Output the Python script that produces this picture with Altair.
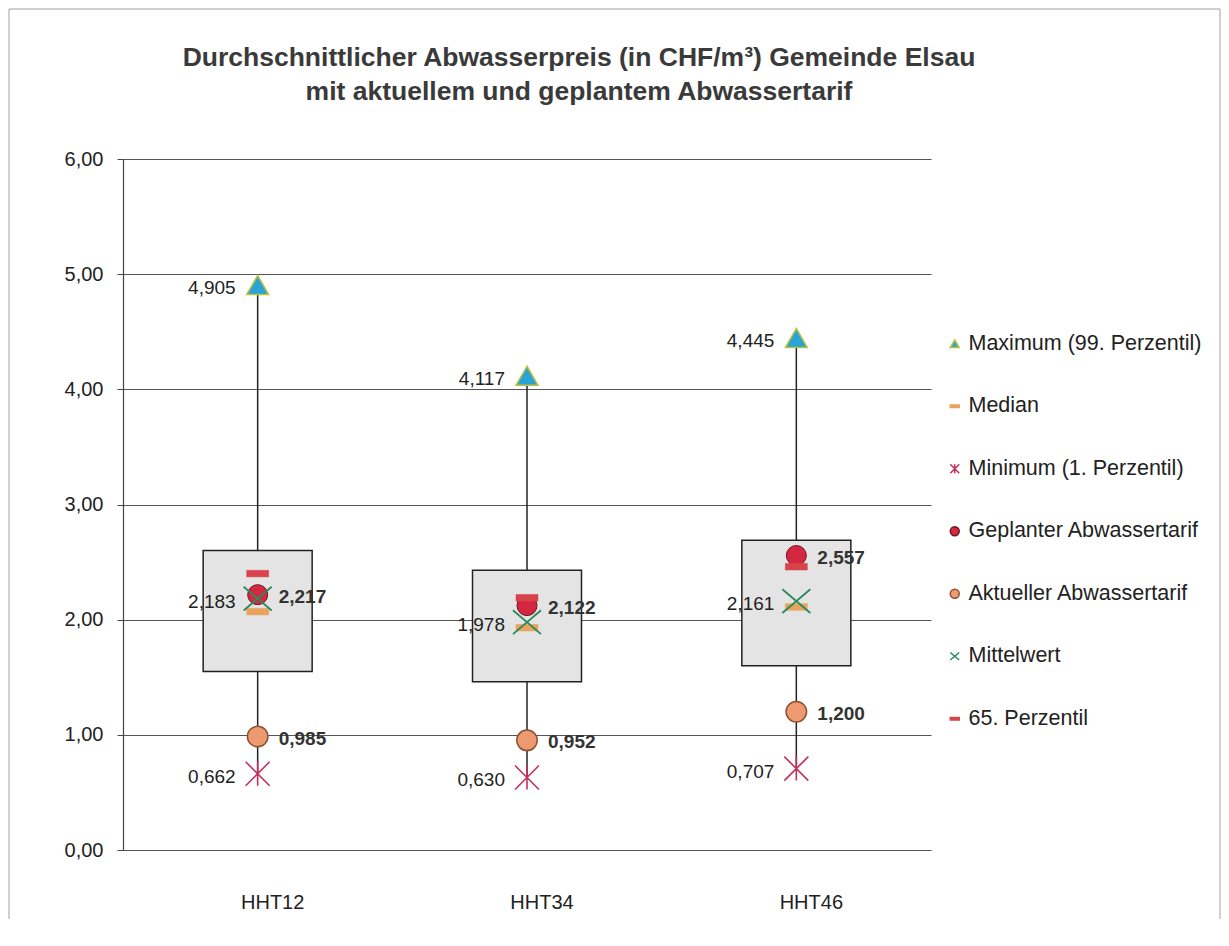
import altair as alt
import pandas as pd

categories = ["HHT12", "HHT34", "HHT46"]
maximum = [4.905, 4.117, 4.445]
median = [2.07, 1.93, 2.11]
minimum = [0.662, 0.630, 0.707]
geplant = [2.217, 2.122, 2.557]
aktuell = [0.985, 0.952, 1.200]
mittelwert = [2.183, 1.978, 2.161]
perz65 = [2.40, 2.19, 2.46]
box_low = [1.55, 1.46, 1.60]
box_high = [2.60, 2.43, 2.69]
y_ticks = [0, 1, 2, 3, 4, 5, 6]
title_text = "Durchschnittlicher Abwasserpreis (in CHF/m³) Gemeinde Elsau\nmit aktuellem und geplantem Abwassertarif"

series_names = [
    "Maximum (99. Perzentil)",
    "Median",
    "Minimum (1. Perzentil)",
    "Geplanter Abwassertarif",
    "Aktueller Abwassertarif",
    "Mittelwert",
    "65. Perzentil",
]
series_values = [maximum, median, minimum, geplant, aktuell, mittelwert, perz65]

DASH = "M-1,-0.3L1,-0.3L1,0.3L-1,0.3Z"
ASTER = "M-1,-1L1,1M-1,1L1,-1M0,-1L0,1"
XPATH = "M-1,-0.85L1,0.85M-1,0.85L1,-0.85"
shapes = ["triangle-up", DASH, ASTER, "circle", "circle", XPATH, DASH]
fills = ["#2AA3D8", "#E9A35E", "#C4305C", "#D3283F", "#EE9A70", "#2A8A5C", "#D9434B"]
strokes = ["#B8C23A", "#E9A35E", "#C4305C", "#6E1422", "#8C5232", "#2A8A5C", "#D9434B"]
sizes = [480, 484, 576, 400, 420, 784, 484]
widths = [1.5, 0.5, 1.6, 1.0, 1.5, 1.8, 0.5]

def fmt(v):
    return f"{v:.3f}".replace(".", ",")

rows = []
for name, vals in zip(series_names, series_values):
    for c, v in zip(categories, vals):
        rows.append({"cat": c, "series": name, "value": v})
points_df = pd.DataFrame(rows)

box_df = pd.DataFrame({"cat": categories, "low": box_low, "high": box_high,
                       "vmin": minimum, "vmax": maximum})

left_rows = []
for vals in [maximum, mittelwert, minimum]:
    for c, v in zip(categories, vals):
        left_rows.append({"cat": c, "value": v, "label": fmt(v)})
left_df = pd.DataFrame(left_rows)

right_rows = []
for vals in [geplant, aktuell]:
    for c, v in zip(categories, vals):
        right_rows.append({"cat": c, "value": v, "label": fmt(v)})
right_df = pd.DataFrame(right_rows)

FONT = "Liberation Sans"

x_enc = alt.X("cat:N", sort=categories,
              scale=alt.Scale(domain=categories, paddingInner=0, paddingOuter=0),
              axis=alt.Axis(title=None, domain=False, ticks=False, labelAngle=0,
                            labelFontSize=20, labelPadding=42, labelColor="#222",
                            labelFont=FONT, grid=False, labelOffset=15))
y_scale = alt.Scale(domain=[0, 6], nice=False)
y_axis = alt.Axis(title=None, values=y_ticks,
                  labelExpr="replace(format(datum.value, '.2f'), '.', ',')",
                  labelFontSize=20, labelColor="#222", labelFont=FONT, labelPadding=14,
                  tickSize=6, tickColor="#444", domainColor="#444", domainWidth=1.2,
                  grid=True, gridColor="#555", gridWidth=1)

one = pd.DataFrame({"t": [title_text]})
frame_left = alt.Chart(one).mark_rule(color="#a0a0a0", strokeWidth=1).encode(
    x=alt.value(-114), y=alt.value(-150), y2=alt.value(760))
frame_top = alt.Chart(one).mark_rule(color="#a0a0a0", strokeWidth=1).encode(
    x=alt.value(-114), x2=alt.value(1097), y=alt.value(-150))
frame_right = alt.Chart(one).mark_rule(color="#a0a0a0", strokeWidth=1).encode(
    x=alt.value(1097), y=alt.value(-150), y2=alt.value(760))

title = alt.Chart(one).mark_text(
    font=FONT, fontSize=26.5, fontWeight="bold", color="#3a3a3a", align="center",
    baseline="alphabetic", lineBreak="\n", lineHeight=34
).encode(x=alt.value(456), y=alt.value(-93), text="t:N")

whisker = alt.Chart(box_df).mark_rule(color="#222", strokeWidth=1.5).encode(
    x=x_enc,
    y=alt.Y("vmin:Q", scale=y_scale, axis=y_axis),
    y2="vmax:Q",
)

boxes = alt.Chart(box_df).mark_bar(
    size=109, fill="#e4e4e4", stroke="#222", strokeWidth=1.5
).encode(
    x=x_enc,
    y=alt.Y("low:Q", scale=y_scale, axis=y_axis),
    y2="high:Q",
)

legend = alt.Legend(title=None, orient="none", legendX=821, legendY=174,
                    labelFontSize=21.5, labelFont=FONT, labelColor="#222",
                    symbolSize=80, symbolStrokeWidth=1.5, rowPadding=39.5,
                    labelOffset=3, symbolOpacity=1, labelLimit=400, padding=0)

shape_enc = alt.Shape("series:N", scale=alt.Scale(domain=series_names, range=shapes), legend=legend)
fill_enc = alt.Fill("series:N", scale=alt.Scale(domain=series_names, range=fills), legend=legend)
stroke_enc = alt.Stroke("series:N", scale=alt.Scale(domain=series_names, range=strokes), legend=legend)

point_layers = []
for name, sz, sw in zip(series_names, sizes, widths):
    point_layers.append(
        alt.Chart(points_df).transform_filter(alt.datum.series == name)
        .mark_point(filled=True, opacity=1, size=sz, strokeWidth=sw)
        .encode(
            x=x_enc,
            y=alt.Y("value:Q", scale=y_scale, axis=y_axis),
            shape=shape_enc, fill=fill_enc, stroke=stroke_enc,
        )
    )

left_text = alt.Chart(left_df).mark_text(
    align="right", baseline="middle", dx=-22, dy=3, fontSize=19, font=FONT, color="#222"
).encode(x=x_enc, y=alt.Y("value:Q", scale=y_scale, axis=y_axis), text="label:N")

right_text = alt.Chart(right_df).mark_text(
    align="left", baseline="middle", dx=21, dy=2, fontSize=19, font=FONT,
    fontWeight="bold", color="#333"
).encode(x=x_enc, y=alt.Y("value:Q", scale=y_scale, axis=y_axis), text="label:N")

chart = alt.layer(frame_left, frame_top, frame_right, title, whisker, boxes, *point_layers,
                  left_text, right_text).properties(
    width=808, height=691,
    padding=0,
).configure(background="white").configure_view(stroke=None)

chart.save("out.html", embed_options={"renderer": "svg", "actions": False})
